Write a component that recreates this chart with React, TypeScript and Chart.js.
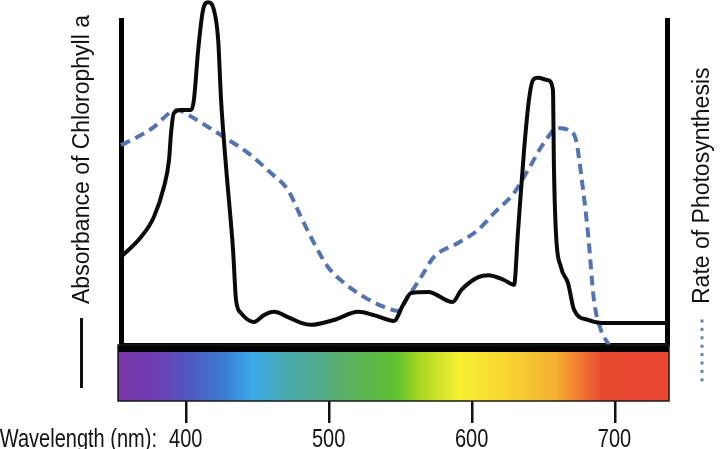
import React, { useEffect, useRef } from "react";
import { Chart, registerables } from "chart.js";

Chart.register(...registerables);

// ---- data ----
const absorbanceNm = [
  354, 368, 377, 384, 387.6, 389, 391, 396, 403, 405, 408, 411.4, 414.9, 419, 422, 424, 427.5,
  432.4, 434.5, 438, 447, 454, 461, 470.8, 480, 487, 503, 520, 531, 545, 551.3, 557, 569, 586,
  592, 604, 611, 622, 629, 631.7, 636, 639.4, 642.2, 645.7, 652.7, 656.2, 656.9, 658.3, 661.8,
  666.7, 671, 680.7, 690, 736,
];
const absorbanceValues = [
  27.1, 33.2, 39.4, 48.6, 56.9, 65.2, 71.4, 72.3, 72.3, 75.4, 90.8, 103.1, 105.5, 103.1, 93.8,
  75.4, 54.8, 29.2, 13.8, 9.8, 7.1, 9.2, 10.2, 8.6, 6.8, 6.2, 7.7, 10.2, 9.2, 7.4, 12.3, 16,
  16.3, 13.2, 16.9, 20.9, 21.5, 20, 18.5, 34.5, 60, 75.4, 81.5, 82.2, 81.5, 78.5, 54.8, 34.5,
  24, 19.1, 10.8, 7.7, 6.8, 6.8,
];
const rateNm = [
  354, 368, 377.1, 389, 393.9, 400.9, 414.9, 426.1, 442.8, 458.9, 470.8, 479.9, 489, 498.8, 510,
  524, 538, 547.8, 554.8, 563.9, 573, 589.8, 603.8, 615, 629, 638.7, 649.9, 659.7, 666.7, 672.3,
  675.8, 680.7, 684.9, 689.8, 695.4,
];
const rateValues = [
  61.5, 64.6, 67.1, 71.7, 72.3, 70.8, 67.1, 64.0, 59.1, 52.9, 47.7, 39.4, 31.4, 24.0, 19.1, 14.8,
  11.7, 10.5, 14.8, 20.9, 27.1, 31.4, 35.4, 40.6, 46.8, 53.8, 62.2, 66.8, 66.2, 63.1, 52.9, 34.5,
  13.8, 4.6, 0,
];
const xTickValues = [400, 500, 600, 700];
const xMin = 354;
const xMax = 736;

const spectrumNm = [354, 380, 406, 428, 446, 467, 490, 512, 546, 563, 591, 627, 658, 678, 690, 736];
const spectrumColors = [
  "#7a35a8", "#6b3fb2", "#4a5ec2", "#3a80d2", "#3aaae8", "#48a8b2", "#50aa90", "#5ab060",
  "#5ec030", "#a8d820", "#f8f032", "#f8d232", "#f5b030", "#f07032", "#e84a30", "#e84830",
];

const leftTitle = "Absorbance of Chlorophyll a";
const rightTitle = "Rate of Photosynthesis";
const xLabel = "Wavelength (nm):";

const SANS = "'Liberation Sans', Arial, sans-serif";
const CONDENSE = 0.77;

function condensedText(ctx: any, text: string, x: number, y: number, align: string) {
  ctx.save();
  ctx.translate(x, y);
  ctx.scale(CONDENSE, 1);
  ctx.textAlign = align;
  ctx.fillText(text, 0, 0);
  ctx.restore();
}

const decorPlugin = {
  id: "decor",
  afterDraw(chart: any) {
    const { ctx, chartArea, scales } = chart;
    const x = scales.x;
    const left = chartArea.left - 3;
    const right = chartArea.right + 2;
    const top = chartArea.bottom;
    const barTop = top + 7;
    const barBottom = top + 56;
    ctx.save();
    ctx.fillStyle = "#000";
    ctx.fillRect(left, top, right - left, barTop - top);
    const x0 = x.getPixelForValue(xMin);
    const x1 = x.getPixelForValue(xMax);
    const g = ctx.createLinearGradient(x0, 0, x1, 0);
    spectrumNm.forEach((nm, i) => {
      const t = Math.min(1, Math.max(0, (nm - xMin) / (xMax - xMin)));
      g.addColorStop(t, spectrumColors[i]);
    });
    ctx.fillStyle = g;
    ctx.fillRect(left, barTop, right - left, barBottom - barTop);
    ctx.strokeStyle = "#1a1a1a";
    ctx.lineWidth = 1.5;
    ctx.strokeRect(left, top, right - left, barBottom - top);

    // axis titles
    ctx.fillStyle = "#111";
    ctx.font = `23px ${SANS}`;
    ctx.textBaseline = "middle";
    ctx.textAlign = "left";
    ctx.save();
    ctx.translate(83, 304);
    ctx.rotate(-Math.PI / 2);
    ctx.fillText(leftTitle, 0, 0);
    ctx.restore();
    ctx.save();
    ctx.translate(703, 304);
    ctx.rotate(-Math.PI / 2);
    ctx.fillText(rightTitle, 0, 0);
    ctx.restore();

    // legend markers
    ctx.strokeStyle = "#111";
    ctx.lineWidth = 3;
    ctx.beginPath();
    ctx.moveTo(81.5, 318);
    ctx.lineTo(81.5, 388);
    ctx.stroke();
    ctx.fillStyle = "#6b7fae";
    for (let y = 321; y <= 388; y += 8.4) {
      ctx.fillRect(700.5, y - 1.5, 3, 3);
    }

    // x label and tick labels (condensed, as in the reference)
    ctx.fillStyle = "#111";
    ctx.font = `26px ${SANS}`;
    ctx.textBaseline = "alphabetic";
    condensedText(ctx, xLabel, 157, 447, "right");
    x.ticks.forEach((t: any) => {
      condensedText(ctx, String(t.value), x.getPixelForValue(t.value) - 1, 447, "center");
    });
    ctx.restore();
  },
};

export default function App() {
  const ref = useRef<HTMLCanvasElement | null>(null);
  useEffect(() => {
    document.body.style.margin = "0";
    const canvas = ref.current;
    if (!canvas) return;
    const chart = new Chart(canvas, {
      type: "line",
      data: {
        datasets: [
          {
            label: "Absorbance",
            data: absorbanceNm.map((nm, i) => ({ x: nm, y: absorbanceValues[i] })),
            borderColor: "#0a0a0a",
            borderWidth: 4,
            pointRadius: 0,
            cubicInterpolationMode: "monotone",
            clip: false as any,
            yAxisID: "y",
          },
          {
            label: "Rate of Photosynthesis",
            data: rateNm.map((nm, i) => ({ x: nm, y: rateValues[i] })),
            borderColor: "#5474b0",
            borderWidth: 4,
            borderDash: [10, 6],
            pointRadius: 0,
            cubicInterpolationMode: "monotone",
            clip: false as any,
            yAxisID: "y2",
          },
        ],
      },
      options: {
        animation: false,
        responsive: false,
        layout: { padding: { left: 113, right: 45, top: 20, bottom: 0 } },
        plugins: { legend: { display: false }, tooltip: { enabled: false } },
        scales: {
          x: {
            type: "linear",
            min: xMin,
            max: xMax,
            afterBuildTicks: (scale: any) => {
              scale.ticks = xTickValues.map((v) => ({ value: v }));
            },
            afterFit: (scale: any) => {
              scale.height = 104;
            },
            grid: {
              drawOnChartArea: false,
              drawTicks: true,
              tickLength: 78,
              color: "#111",
              lineWidth: 2.5,
            },
            border: { display: true, color: "#000", width: 5 },
            ticks: {
              padding: 2,
              color: "rgba(0,0,0,0)",
              font: { size: 18, family: SANS },
              maxRotation: 0,
              autoSkip: false,
            },
          },
          y: {
            position: "left",
            min: 0,
            max: 100,
            grid: { display: false },
            border: { display: true, color: "#000", width: 5 },
            ticks: { display: false },
          },
          y2: {
            position: "right",
            min: 0,
            max: 100,
            grid: { display: false },
            border: { display: true, color: "#000", width: 5 },
            ticks: { display: false },
          },
        },
      },
      plugins: [decorPlugin],
    });
    return () => chart.destroy();
  }, []);
  return (
    <div style={{ width: 720, height: 449, position: "relative", background: "#fff" }}>
      <canvas ref={ref} width={720} height={449} style={{ display: "block" }} />
    </div>
  );
}
